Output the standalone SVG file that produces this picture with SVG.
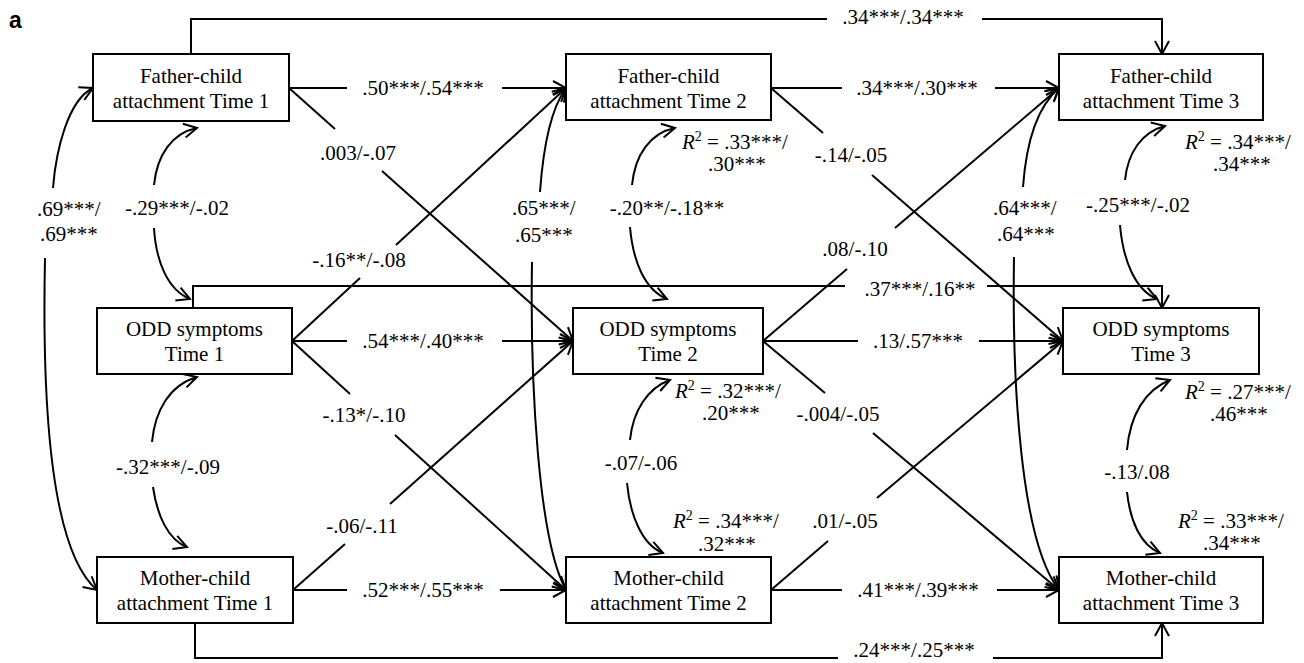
<svg xmlns="http://www.w3.org/2000/svg" width="1304" height="663" viewBox="0 0 1304 663">
<defs>
<marker id="ah" markerUnits="userSpaceOnUse" markerWidth="18" markerHeight="18" refX="14" refY="8" orient="auto" overflow="visible">
<path d="M1 1 L14 8 L1 15" fill="none" stroke="#000" stroke-width="2"/>
</marker>
</defs>
<style>
.box{fill:#fff;stroke:#000;stroke-width:2}
.ln{fill:none;stroke:#000;stroke-width:2}
.ar{fill:none;stroke:#000;stroke-width:2;marker-end:url(#ah)}
.t{font-family:"Liberation Serif","Times New Roman",serif;font-size:21px;fill:#000}
.c{text-anchor:middle}
.s{text-anchor:start}
.it{font-style:italic}
.sup{font-size:14px}
.panel{font-family:"Liberation Sans",Arial,sans-serif;font-weight:bold;font-size:23px}
</style>
<rect width="1304" height="663" fill="#fff"/>
<text class="panel" x="9" y="28">a</text>

<g id="connectors">
<path class="ln" d="M191 54 V19 H827"/>
<path class="ar" d="M982 19 H1162 V54"/>
<path class="ln" d="M193 308 V286 H845"/>
<path class="ar" d="M987 286 H1162 V308"/>
<path class="ln" d="M195 623 V658 H838"/>
<path class="ar" d="M993 658 H1162 V623"/>
<path class="ln" d="M289 88 H347"/><path class="ar" d="M502 88 H566"/>
<path class="ln" d="M771 88 H842"/><path class="ar" d="M995 88 H1059"/>
<path class="ln" d="M292 341 H347"/><path class="ar" d="M502 341 H573"/>
<path class="ln" d="M763 341 H858"/><path class="ar" d="M979 341 H1063"/>
<path class="ln" d="M293 590 H347"/><path class="ar" d="M500 590 H566"/>
<path class="ln" d="M771 590 H842"/><path class="ar" d="M997 590 H1059"/>
<path class="ln" d="M289 88 L335 129"/><path class="ar" d="M382 171 L573 341"/>
<path class="ln" d="M292 341 L360 278"/><path class="ar" d="M396 245 L566 88"/>
<path class="ln" d="M292 341 L350 394"/><path class="ar" d="M395 435 L566 590"/>
<path class="ln" d="M293 590 L345 544"/><path class="ar" d="M390 504 L573 341"/>
<path class="ln" d="M771 88 L823 133"/><path class="ar" d="M872 175 L1063 341"/>
<path class="ln" d="M763 341 L847 269"/><path class="ar" d="M895 228 L1059 88"/>
<path class="ln" d="M763 341 L825 393"/><path class="ar" d="M873 433 L1059 590"/>
<path class="ln" d="M771 590 L828 541"/><path class="ar" d="M877 498 L1063 341"/>
<path class="ar" d="M53 188 C56 150, 68 100, 93 88"/>
<path class="ar" d="M45 258 C42 400, 50 550, 97 590"/>
<path class="ar" d="M540 192 C543 150, 550 110, 566 88"/>
<path class="ar" d="M532 262 C530 380, 538 540, 566 590"/>
<path class="ar" d="M1023 187 C1026 145, 1036 108, 1059 88"/>
<path class="ar" d="M1014 257 C1012 380, 1020 540, 1059 590"/>
<path class="ar" d="M154 185 C157 155, 172 133, 197 128"/>
<path class="ar" d="M154 228 C156 262, 168 290, 190 299"/>
<path class="ar" d="M152 442 C155 410, 170 385, 197 377"/>
<path class="ar" d="M153 487 C157 515, 168 540, 187 547"/>
<path class="ar" d="M632 185 C635 155, 650 133, 675 128"/>
<path class="ar" d="M630 227 C633 262, 645 290, 667 299"/>
<path class="ar" d="M630 440 C633 410, 648 388, 670 380"/>
<path class="ar" d="M627 483 C630 515, 642 545, 663 553"/>
<path class="ar" d="M1125 180 C1128 152, 1142 132, 1165 126"/>
<path class="ar" d="M1120 225 C1123 260, 1135 290, 1157 299"/>
<path class="ar" d="M1127 450 C1130 415, 1145 390, 1170 380"/>
<path class="ar" d="M1127 492 C1130 520, 1140 545, 1160 553"/>
</g>

<g id="node-father-t1"><rect class="box" x="93" y="54" width="196" height="67"/><text class="t c" x="191" y="83">Father-child</text><text class="t c" x="191" y="108">attachment Time 1</text></g>
<g id="node-father-t2"><rect class="box" x="566" y="54" width="205" height="66"/><text class="t c" x="668.5" y="83">Father-child</text><text class="t c" x="668.5" y="108">attachment Time 2</text></g>
<g id="node-father-t3"><rect class="box" x="1059" y="54" width="204" height="66"/><text class="t c" x="1161" y="83">Father-child</text><text class="t c" x="1161" y="108">attachment Time 3</text></g>
<g id="node-odd-t1"><rect class="box" x="97" y="308" width="195" height="66"/><text class="t c" x="194.5" y="336">ODD symptoms</text><text class="t c" x="194.5" y="361">Time 1</text></g>
<g id="node-odd-t2"><rect class="box" x="573" y="308" width="190" height="66"/><text class="t c" x="668" y="336">ODD symptoms</text><text class="t c" x="668" y="361">Time 2</text></g>
<g id="node-odd-t3"><rect class="box" x="1063" y="308" width="196" height="66"/><text class="t c" x="1161" y="336">ODD symptoms</text><text class="t c" x="1161" y="361">Time 3</text></g>
<g id="node-mother-t1"><rect class="box" x="97" y="557" width="196" height="66"/><text class="t c" x="195" y="585">Mother-child</text><text class="t c" x="195" y="610">attachment Time 1</text></g>
<g id="node-mother-t2"><rect class="box" x="566" y="557" width="205" height="66"/><text class="t c" x="668.5" y="585">Mother-child</text><text class="t c" x="668.5" y="610">attachment Time 2</text></g>
<g id="node-mother-t3"><rect class="box" x="1059" y="557" width="204" height="66"/><text class="t c" x="1161" y="585">Mother-child</text><text class="t c" x="1161" y="610">attachment Time 3</text></g>

<g id="labels">
<text class="t c" x="903" y="24">.34***/.34***</text>
<text class="t c" x="920" y="296">.37***/.16**</text>
<text class="t c" x="914" y="657">.24***/.25***</text>
<text class="t c" x="423" y="95">.50***/.54***</text>
<text class="t c" x="917" y="95">.34***/.30***</text>
<text class="t c" x="423" y="348">.54***/.40***</text>
<text class="t c" x="918" y="348">.13/.57***</text>
<text class="t c" x="423" y="597">.52***/.55***</text>
<text class="t c" x="918" y="597">.41***/.39***</text>
<text class="t c" x="358" y="160">.003/-.07</text>
<text class="t c" x="359" y="267">-.16**/-.08</text>
<text class="t c" x="364" y="422">-.13*/-.10</text>
<text class="t c" x="362" y="533">-.06/-.11</text>
<text class="t c" x="851" y="162">-.14/-.05</text>
<text class="t c" x="855" y="256">.08/-.10</text>
<text class="t c" x="838" y="421">-.004/-.05</text>
<text class="t c" x="845" y="528">.01/-.05</text>
<text class="t s" x="37" y="216">.69***/</text>
<text class="t s" x="40" y="241">.69***</text>
<text class="t s" x="512" y="215">.65***/</text>
<text class="t s" x="515" y="242">.65***</text>
<text class="t s" x="993" y="215">.64***/</text>
<text class="t s" x="997" y="241">.64***</text>
<text class="t c" x="177" y="215">-.29***/-.02</text>
<text class="t c" x="168" y="474">-.32***/-.09</text>
<text class="t c" x="667" y="215">-.20**/-.18**</text>
<text class="t c" x="641" y="470">-.07/-.06</text>
<text class="t c" x="1138" y="212">-.25***/-.02</text>
<text class="t c" x="1137" y="479">-.13/.08</text>
<text class="t s" x="682" y="149"><tspan class="it">R</tspan><tspan class="sup" dy="-8">2</tspan><tspan dy="8"> = .33***/</tspan></text>
<text class="t s" x="708" y="171">.30***</text>
<text class="t s" x="1185" y="149"><tspan class="it">R</tspan><tspan class="sup" dy="-8">2</tspan><tspan dy="8"> = .34***/</tspan></text>
<text class="t s" x="1213" y="171">.34***</text>
<text class="t s" x="675" y="398"><tspan class="it">R</tspan><tspan class="sup" dy="-8">2</tspan><tspan dy="8"> = .32***/</tspan></text>
<text class="t s" x="702" y="420">.20***</text>
<text class="t s" x="1185" y="399"><tspan class="it">R</tspan><tspan class="sup" dy="-8">2</tspan><tspan dy="8"> = .27***/</tspan></text>
<text class="t s" x="1210" y="421">.46***</text>
<text class="t s" x="673" y="528"><tspan class="it">R</tspan><tspan class="sup" dy="-8">2</tspan><tspan dy="8"> = .34***/</tspan></text>
<text class="t s" x="698" y="551">.32***</text>
<text class="t s" x="1178" y="528"><tspan class="it">R</tspan><tspan class="sup" dy="-8">2</tspan><tspan dy="8"> = .33***/</tspan></text>
<text class="t s" x="1203" y="550">.34***</text>
</g>
</svg>
